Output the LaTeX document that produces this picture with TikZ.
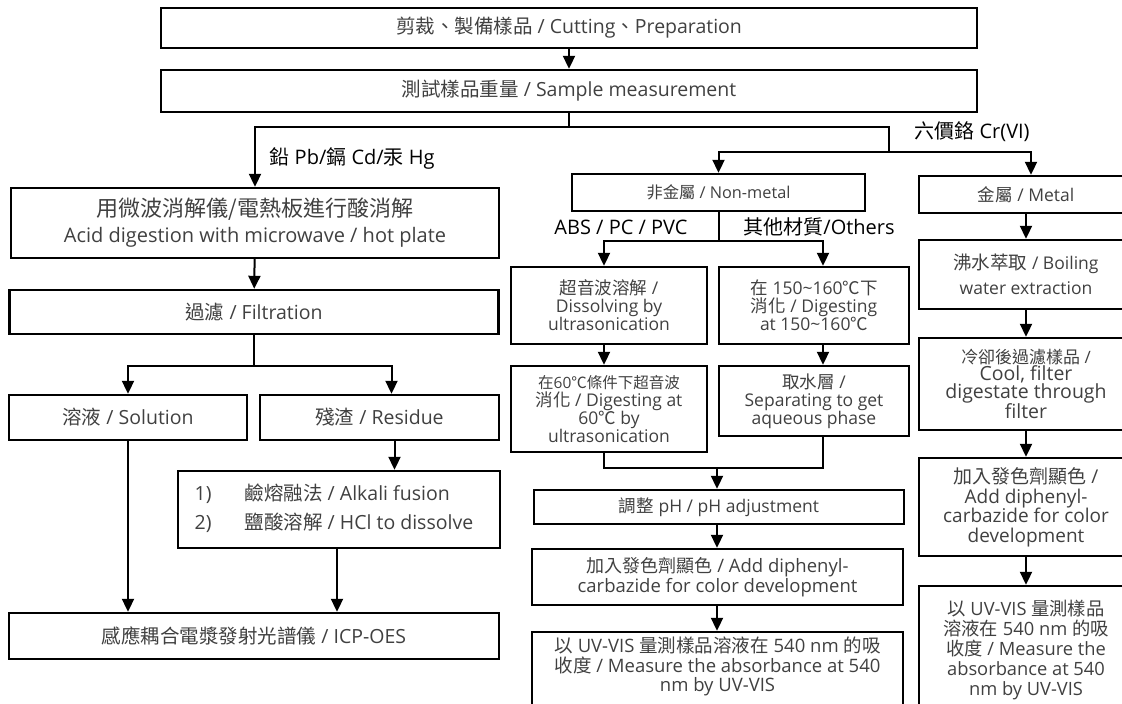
\documentclass[tikz,border=0pt]{standalone}
\usepackage{fontspec}
\setmainfont{Open Sans}
\newfontfamily\cjkfont{Noto Sans CJK TC}
\newcommand\zh[1]{{\cjkfont #1}}
\usetikzlibrary{arrows.meta}
\definecolor{txtgray}{gray}{0.25}
\tikzset{
  box/.style={draw, line width=2.4pt, align=center, inner sep=0pt, text=txtgray},
  arr/.style={line width=2pt, -{Triangle[length=13pt,width=12pt]}},
  conn/.style={line width=2pt},
  lbl/.style={font=\fontsize{20}{22}\selectfont, text=black},
  top/.style={font=\fontsize{19.5}{22}\selectfont},
  big/.style={font=\fontsize{19.5}{26}\selectfont},
  small/.style={font=\fontsize{17.5}{18}\selectfont},
  right/.style={font=\fontsize{18.3}{20}\selectfont}
}

\begin{document}
\begin{tikzpicture}[x=1pt,y=-1pt]
			%%%%% START %%%%%
			\clip (0,0) rectangle (1122,704);
			
			\node[box, top, minimum width=816, minimum height=40] (cut) at (569,28) {\zh{剪裁、製備樣品} / Cutting\zh{、}Preparation};
			\node[box, top, minimum width=816, minimum height=42] (meas) at (569,91) {\zh{測試樣品重量} / Sample measurement};
			\draw[arr] (cut) -- (meas);
			
			\coordinate (msplit) at (569,127);
			\coordinate (crsplit) at (889,152);
			
			% left column: Pb / Cd / Hg
			\node[box, big, font=\fontsize{20}{26}\selectfont, minimum width=488, minimum height=70] (acid) at (255,223) {{\fontsize{22}{26}\selectfont\zh{用微波消解儀/電熱板進行酸消解}}\\Acid digestion with microwave / hot plate};
			\node[box, big, minimum width=489, minimum height=44] (filt) at (254,312) {\zh{過濾} / Filtration};
			\node[box, big, minimum width=238, minimum height=45] (sol) at (128,417.5) {\zh{溶液} / Solution};
			\node[box, big, minimum width=239, minimum height=45] (res) at (379.5,417.5) {\zh{殘渣} / Residue};
			\node[box, big, minimum width=322, minimum height=77] (alk) at (339,509.5) {\begin{tabular}{@{}l@{\hspace{33pt}}l@{\hspace{10pt}}}1) & \zh{鹼熔融法} / Alkali fusion\\[3pt] 2) & \zh{鹽酸溶解} / HCl to dissolve\end{tabular}};
			\node[box, big, minimum width=490, minimum height=46] (icp) at (254,636) {\zh{感應耦合電漿發射光譜儀} / ICP-OES};
			
			\draw[conn] (meas.south) -- (msplit);
			\draw[arr] (msplit) -| (acid.north);
			\node[lbl, anchor=west] (pblbl) at (266,158) {\zh{鉛} Pb/\zh{鎘} Cd/\zh{汞} Hg};
			\draw[arr] (acid) -- (filt);
			\draw[conn] (filt.south) -- ++(0,31) coordinate (fsplit);
			\draw[arr] (fsplit) -| (sol.north);
			\draw[arr] (fsplit) -| ([xshift=12pt]res.north);
			\draw[arr] ([xshift=15pt]res.south) -- ([xshift=15pt]res.south |- alk.north);
			\draw[arr] (sol.south) -- (sol.south |- icp.north);
			\draw[arr] ([xshift=-2pt]alk.south) -- ([xshift=-2pt]alk.south |- icp.north);
			
			% Cr(VI), non-metal
			\draw[conn] (msplit) -| (crsplit);
			\node[lbl] (crlbl) at (972,132) {\zh{六價鉻} Cr(VI)};
			\node[box, font=\fontsize{16.3}{18}\selectfont, minimum width=293, minimum height=37] (nonm) at (718.5,192.5) {\zh{非金屬} / Non-metal};
			\draw[arr] (crsplit) -| (nonm.north);
			\node[lbl] (abslbl) at (621,227) {ABS / PC / PVC};
			\node[lbl] (othlbl) at (819,227) {\zh{其他材質}/Others};
			
			\node[box, small, minimum width=196, minimum height=77] (ultra) at (609,305.5) {\zh{超音波溶解} /\\Dissolving by\\ultrasonication};
			\node[box, small, minimum width=190, minimum height=77] (dig) at (814,305.5) {\zh{在} 150\textasciitilde160\zh{℃下}\\\zh{消化} / Digesting\\at 150\textasciitilde160\zh{℃}};
			\node[box, small, minimum width=196, minimum height=86] (ultsix) at (609,409) {{\fontsize{15.5}{18}\selectfont\zh{在}60\zh{℃條件下超音波}}\\\zh{消化} / Digesting at\\60\zh{℃} by\\ultrasonication};
			\node[box, small, minimum width=190, minimum height=70] (aq) at (814,401) {\zh{取水層} /\\Separating to get\\aqueous phase};
			\node[box, font=\fontsize{17.5}{18}\selectfont, minimum width=370, minimum height=34] (ph) at (719,507) {\zh{調整} pH / pH adjustment};
			\node[box, font=\fontsize{18.5}{17}\selectfont, minimum width=371, minimum height=56] (add) at (717.5,577) {{\fontsize{18}{17}\selectfont\zh{加入發色劑顯色}} / Add diphenyl-\\carbazide for color development};
			\node[box, font=\fontsize{18.5}{19.5}\selectfont, minimum width=371, minimum height=82, text depth=17pt] (uv) at (717.5,673) {\zh{以} UV-VIS \zh{量測樣品溶液在} 540 nm \zh{的吸}\\\zh{收度} / Measure the absorbance at 540\\nm by UV-VIS};
			
			\draw[conn] (nonm.south) -- ++(0,29) coordinate (nsplit);
			\draw[arr] (nsplit) -| ([xshift=-5pt]ultra.north);
			\draw[arr] (nsplit) -| ([xshift=9pt]dig.north);
			\draw[arr] ([xshift=-5pt]ultra.south) -- ([xshift=-5pt]ultsix.north);
			\draw[arr] ([xshift=9pt]dig.south) -- ([xshift=9pt]aq.north);
			\draw[conn] ([xshift=-5pt]ultsix.south) -- ++(0,15) -| ([xshift=9pt]aq.south);
			\coordinate (mjoin) at (717,467);
			\draw[arr] (mjoin) -- (mjoin |- ph.north);
			\draw[arr] (mjoin |- ph.south) -- (mjoin |- add.north);
			\draw[arr] (mjoin |- add.south) -- (mjoin |- uv.north);
			
			% Cr(VI), metal
			\node[box, font=\fontsize{17.5}{22}\selectfont, minimum width=214, minimum height=37] (metal) at (1026,194.5) {\zh{金屬} / Metal};
			\node[box, font=\fontsize{17.5}{25}\selectfont, minimum width=214, minimum height=69] (boil) at (1026,274.5) {{\fontsize{18.5}{25}\selectfont\zh{沸水萃取}} / Boiling\\water extraction};
			\node[box, font=\fontsize{19.5}{17.5}\selectfont, minimum width=214, minimum height=92] (cool) at (1026,384) {{\fontsize{17}{17.5}\selectfont\zh{冷卻後過濾樣品} /}\\Cool, filter\\digestate through\\filter};
			\node[box, font=\fontsize{19}{19.5}\selectfont, minimum width=214, minimum height=98] (addm) at (1026,507) {\zh{加入發色劑顯色} /\\Add diphenyl-\\carbazide for color\\development};
			\node[box, right, minimum width=214, minimum height=128] (uvm) at (1026,650) {\zh{以} UV-VIS \zh{量測樣品}\\\zh{溶液在} 540 nm \zh{的吸}\\\zh{收度} / Measure the\\absorbance at 540\\nm by UV-VIS};
			
			\draw[arr] (crsplit) -| ([xshift=5pt]metal.north);
			\draw[arr] (metal) -- (boil);
			\draw[arr] (boil) -- (cool);
			\draw[arr] (cool) -- (addm);
			\draw[arr] (addm) -- (uvm);
			%%%%% END %%%%%
\end{tikzpicture}
\end{document}
